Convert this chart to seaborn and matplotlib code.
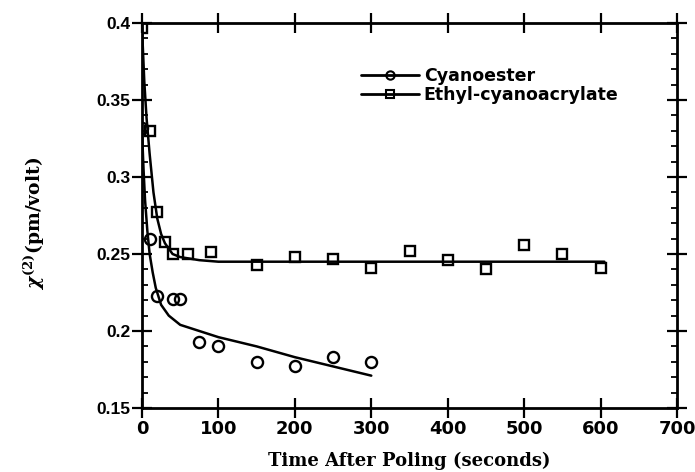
import matplotlib
matplotlib.use('Agg')
import matplotlib.pyplot as plt
from matplotlib.lines import Line2D
from matplotlib.ticker import MultipleLocator
import seaborn as sns

cyano_t = [0, 10, 20, 40, 50, 75, 100, 150, 200, 250, 300]
cyano_chi = [0.332, 0.260, 0.223, 0.221, 0.221, 0.193, 0.190, 0.180, 0.177, 0.183, 0.180]

ethyl_t = [0, 10, 20, 30, 40, 60, 90, 150, 200, 250, 300, 350, 400, 450, 500, 550, 600]
ethyl_chi = [0.397, 0.330, 0.277, 0.258, 0.250, 0.250, 0.251, 0.243, 0.248, 0.247,
             0.241, 0.252, 0.246, 0.240, 0.256, 0.250, 0.241]

# fit curves
cyano_fit_t = [0, 2, 4, 7, 10, 14, 18, 25, 35, 50, 75, 100, 150, 200, 250, 300]
cyano_fit_chi = [0.330, 0.305, 0.285, 0.265, 0.250, 0.238, 0.228, 0.217, 0.210, 0.204,
                 0.200, 0.196, 0.190, 0.183, 0.177, 0.171]

ethyl_fit_t = [0, 3, 6, 10, 15, 20, 25, 30, 40, 50, 75, 100, 200, 300, 400, 500, 605]
ethyl_fit_chi = [0.397, 0.362, 0.338, 0.315, 0.290, 0.273, 0.263, 0.257, 0.250, 0.248,
                 0.246, 0.245, 0.245, 0.245, 0.245, 0.245, 0.245]

series_names = ['Cyanoester', 'Ethyl-cyanoacrylate']
xticks = [0, 100, 200, 300, 400, 500, 600, 700]
yticks = [0.15, 0.2, 0.25, 0.3, 0.35, 0.4]
ytick_labels = ['0.15', '0.2', '0.25', '0.3', '0.35', '0.4']

sns.set_style('ticks')
plt.rcParams['font.family'] = ['Liberation Sans', 'DejaVu Sans']
plt.rcParams['text.color'] = 'black'
plt.rcParams['axes.labelcolor'] = 'black'
plt.rcParams['xtick.color'] = 'black'
plt.rcParams['ytick.color'] = 'black'
plt.rcParams['mathtext.fontset'] = 'custom'
plt.rcParams['mathtext.rm'] = 'DejaVu Serif:bold'
plt.rcParams['mathtext.it'] = 'DejaVu Serif:italic:bold'
plt.rcParams['mathtext.bf'] = 'DejaVu Serif:bold'

fig = plt.figure(figsize=(6.95, 4.72), dpi=100)
ax = fig.add_axes([142 / 695, 1 - 408 / 472, (677 - 142) / 695, (408 - 23) / 472])

sns.lineplot(x=cyano_fit_t, y=cyano_fit_chi, color='black', lw=1.8, ax=ax)
sns.lineplot(x=ethyl_fit_t, y=ethyl_fit_chi, color='black', lw=1.8, ax=ax)
sns.lineplot(x=cyano_t, y=cyano_chi, color='black', linestyle='', marker='o',
             markersize=8, mfc='none', mec='black', mew=1.7, ax=ax)
sns.lineplot(x=ethyl_t, y=ethyl_chi, color='black', linestyle='', marker='s',
             markersize=7.5, mfc='none', mec='black', mew=1.7, ax=ax)

ax.set_xlim(0, 700)
ax.set_ylim(0.15, 0.4)
ax.set_xticks(xticks)
ax.set_xticklabels([str(t) for t in xticks], family='DejaVu Sans', fontsize=13,
                   fontweight='bold')
ax.set_yticks(yticks)
ax.set_yticklabels(ytick_labels, fontsize=12.5, fontweight='bold')
ax.yaxis.set_minor_locator(MultipleLocator(0.01))

ax.tick_params(axis='both', which='major', direction='inout', length=15, width=1.6,
               top=True, right=True, pad=1)
ax.tick_params(axis='y', which='minor', direction='in', length=4, width=1.3,
               left=True, right=True)
for sp in ax.spines.values():
    sp.set_linewidth(2)
    sp.set_color('black')

ax.set_xlabel('Time After Poling (seconds)', family='DejaVu Serif',
              fontweight='bold', fontsize=13, labelpad=10)
ax.set_ylabel(r'$\chi^{(2)}$(pm/volt)', family='DejaVu Serif',
              fontweight='bold', fontsize=13.5)
ax.yaxis.set_label_coords(-0.177, 0.48)

handles = [
    Line2D([], [], color='black', lw=2, marker='o', markersize=6, mfc='none', mew=1.5),
    Line2D([], [], color='black', lw=2, marker='s', markersize=5.5, mfc='none', mew=1.5),
]
ax.legend(handles, series_names, loc='upper left', bbox_to_anchor=(0.41, 0.885),
          frameon=False, handlelength=3.3, handletextpad=0.3, labelspacing=0.05,
          borderpad=0, borderaxespad=0,
          prop={'family': 'DejaVu Sans', 'weight': 'bold', 'size': 12.5})

fig.savefig('out.png', dpi=100)
